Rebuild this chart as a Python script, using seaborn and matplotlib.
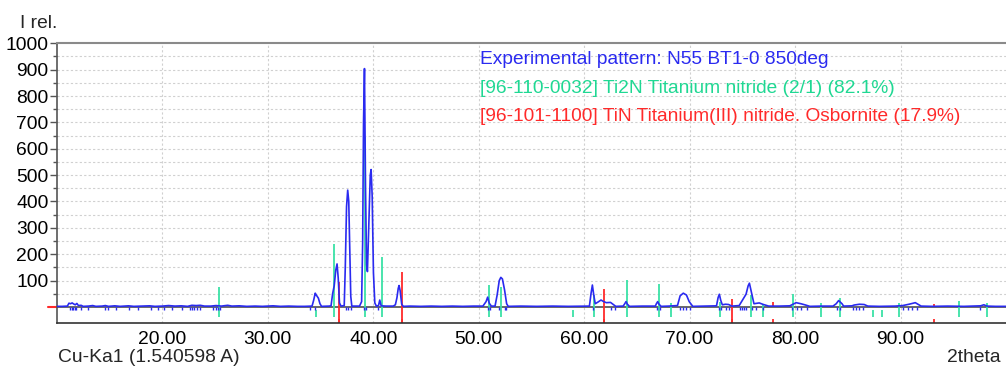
"""
XRD pattern: N55 BT1-0 850deg, phases Ti2N + TiN
"""
import numpy as np
import pandas as pd
import matplotlib
matplotlib.use("Agg")
import matplotlib.pyplot as plt
import seaborn as sns

# ── experimental pattern (2theta, I rel.) ──
exp_2theta = [
    10.0, 10.5, 11.0, 11.15, 11.3, 11.45, 11.6, 11.75, 11.9, 12.05, 12.3, 12.5,
    13.0, 13.4, 13.7, 14.3, 14.6, 14.9, 15.5, 16.0, 16.8, 17.3, 18.0, 18.8, 19.3,
    20.0, 20.6, 21.2, 21.8, 22.4, 22.8, 23.2, 23.6, 24.0, 24.6, 25.1, 25.6, 26.2,
    26.6, 27.3, 28.0, 28.8, 29.5, 30.5, 31.2, 32.0, 32.8, 33.5, 34.2, 34.35, 34.5,
    34.6, 34.8, 34.95, 35.1, 35.8, 36.0, 36.15, 36.3, 36.45, 36.57, 36.68, 36.8,
    36.95, 37.25, 37.35, 37.47, 37.58, 37.68, 37.77, 37.87, 37.97, 38.7, 38.9,
    39.0, 39.08, 39.17, 39.27, 39.37, 39.45, 39.57, 39.72, 39.8, 39.9, 40.02,
    40.15, 40.3, 40.5, 40.62, 40.75, 41.2, 41.9, 42.1, 42.25, 42.37, 42.45, 42.55,
    42.7, 42.85, 43.5, 44.5, 45.5, 46.5, 47.5, 48.5, 49.5, 50.4, 50.7, 50.85,
    51.0, 51.2, 51.55, 51.75, 51.95, 52.1, 52.25, 52.45, 52.65, 52.8, 54.0, 55.5,
    57.0, 58.5, 60.0, 60.5, 60.65, 60.78, 60.9, 61.05, 61.3, 61.6, 61.85, 62.1,
    62.5, 62.8, 63.0, 63.7, 63.85, 63.97, 64.1, 64.3, 65.5, 66.75, 66.85, 66.97,
    67.1, 67.3, 68.0, 68.85, 69.1, 69.4, 69.7, 69.96, 70.3, 71.5, 72.55, 72.7,
    72.82, 72.95, 73.1, 73.4, 73.7, 74.0, 74.7, 75.0, 75.35, 75.55, 75.67, 75.9,
    76.1, 76.6, 77.0, 77.5, 78.5, 79.5, 79.7, 80.1, 80.55, 81.0, 81.4, 82.5,
    83.6, 83.9, 84.13, 84.45, 84.6, 85.4, 85.6, 86.1, 86.55, 86.9, 88.0, 89.5,
    90.2, 90.8, 91.4, 91.95, 93.0, 94.5, 96.0, 97.6, 97.9, 98.2, 99.0, 100.0,
]
exp_int = [
    2, 2, 3, 14, 12, 15, 11, 8, 13, 5, 6, 2,
    3, 5, 2, 3, 5, 2, 4, 2, 4, 2, 3, 4, 2,
    3, 5, 3, 4, 2, 6, 5, 6, 3, 3, 5, 3, 6,
    3, 4, 2, 3, 2, 4, 2, 3, 2, 2, 3, 25, 52,
    45, 33, 12, 2, 3, 4, 50, 80, 140, 163, 110, 15,
    3, 5, 150, 380, 443, 400, 220, 40, 3, 3, 20,
    250, 700, 904, 450, 160, 134, 300, 500, 521, 420, 130,
    15, 3, 5, 26, 4, 3, 3, 8, 35, 70, 81, 62,
    10, 2, 3, 2, 3, 2, 3, 2, 3, 3, 20, 37,
    14, 3, 3, 45, 100, 112, 106, 65, 12, 2, 3, 2,
    3, 2, 3, 3, 50, 83, 48, 12, 18, 26, 20, 16,
    17, 8, 2, 3, 12, 20, 10, 2, 3, 3, 12, 20,
    10, 2, 3, 5, 42, 52, 45, 20, 2, 3, 4, 35,
    48, 25, 8, 10, 9, 3, 5, 25, 48, 80, 90, 48,
    12, 15, 9, 3, 3, 4, 8, 16, 12, 7, 2, 3,
    3, 12, 24, 12, 3, 4, 7, 10, 9, 3, 2, 3,
    5, 10, 16, 3, 2, 3, 2, 4, 8, 3, 2, 2,
]
# peak markers under the experimental pattern
exp_ticks = [
    11.25, 11.4, 11.55, 11.7, 11.85, 12.3, 12.95, 14.55, 14.85, 15.65, 16.85,
    17.65, 18.95, 19.55, 20.2, 20.95, 21.85, 22.65, 22.85, 23.05, 23.25, 23.55,
    24.85, 25.05, 25.25, 25.45, 34.0, 34.45, 37.45, 37.65, 37.85, 39.1, 39.35,
    40.5, 50.9, 51.1, 51.95, 52.45, 52.6, 60.8, 62.55, 62.9, 66.95, 67.15, 69.05,
    69.35, 69.65, 70.0, 72.8, 73.0, 73.45, 73.75, 74.75, 74.95, 75.15, 75.35,
    75.95, 76.3, 76.95, 79.75, 80.15, 80.55, 81.15, 83.95, 84.25, 85.45, 85.75,
    86.05, 86.4, 90.25, 90.7, 91.1, 91.6, 97.55,
]

# ── [96-110-0032] Ti2N (0 = marker only) ──
ti2n_2theta = [25.35, 34.6, 36.25, 39.25, 40.8, 50.95, 52.15, 58.9, 60.9, 64.05,
               67.1, 68.2, 72.85, 75.8, 77.0, 79.8, 82.5, 84.3, 87.35, 88.2,
               89.9, 95.5, 98.2]
ti2n_int = [77, 0, 239, 645, 188, 83, 75, 0, 45, 103,
            88, 15, 20, 45, 10, 50, 15, 33, 0, 0,
            13, 24, 16]

# ── [96-101-1100] TiN ──
tin_2theta = [36.8, 42.75, 61.9, 74.05, 77.95, 93.2]
tin_int = [96, 134, 68, 29, 20, 11]

BLUE = "#2a2af0"
GREEN = "#3ae2a6"
GREEN_TXT = "#1FD893"
RED = "#FF2A2A"
FS = 13.9

sns.set_theme(style="white")
plt.rcParams["font.family"] = ["Liberation Sans", "DejaVu Sans"]

fig = plt.figure(figsize=(10.06, 3.67), dpi=100)
ax = fig.add_axes([0.0565, 0.1207, 0.9435, 0.7613])

# grid
for v in range(20, 100, 10):
    ax.axvline(v, color="#d0d0d0", lw=0.8, ls=(0, (2, 2)), zorder=0)
for h in range(50, 1000, 50):
    ax.axhline(h, color="#d0d0d0", lw=0.8, ls=(0, (2, 2)), zorder=0)

ax.axhline(0, color="#404040", lw=1.1, zorder=1)

# phase sticks
t_int = np.array(ti2n_int, dtype=float)
ax.vlines(ti2n_2theta, -40, np.where(t_int > 0, t_int, -12), color=GREEN, lw=1.3, zorder=2)
r_int = np.array(tin_int, dtype=float)
ax.vlines(tin_2theta, np.where(r_int >= 25, -60, 0), r_int, color=RED, lw=1.3, zorder=2)
ax.vlines(tin_2theta, -45, -60, color=RED, lw=1.3, zorder=2)

# experimental pattern
exp = pd.DataFrame({"two_theta": exp_2theta, "I": exp_int})
sns.lineplot(data=exp, x="two_theta", y="I", color=BLUE, lw=1.2, ax=ax,
             sort=False, estimator=None, zorder=3)
ax.vlines(exp_ticks, 0, -12, color=BLUE, lw=1.0, zorder=3)

# red zero marker left of the axis
ax.plot([-0.009, 0], [0, 0], color=RED, lw=1.5,
        transform=ax.get_yaxis_transform(), clip_on=False)

ax.set_xlim(10, 100)
ax.set_ylim(-60, 1000)
ax.set_xticks(range(20, 100, 10))
ax.set_xticklabels([f"{v:.2f}" for v in range(20, 100, 10)])
ax.set_yticks(range(100, 1001, 100))
ax.set_yticks(range(50, 1000, 100), minor=True)
ax.tick_params(axis="y", which="major", left=True, length=5, width=1, color="#555555",
               pad=1, labelsize=FS, labelcolor="black")
ax.tick_params(axis="y", which="minor", left=True, length=3, width=1, color="#555555")
ax.tick_params(axis="x", length=0, pad=6, labelsize=FS, labelcolor="black")
ax.set_xlabel("")
ax.set_ylabel("")

ax.spines["right"].set_visible(False)
ax.spines["top"].set_color("#8a8a8a")
ax.spines["top"].set_linewidth(1.5)
ax.spines["left"].set_color("#555555")
ax.spines["left"].set_linewidth(1.2)
ax.spines["bottom"].set_color("#333333")
ax.spines["bottom"].set_linewidth(1.2)

H = 367.0
W = 1006.0
fig.text(20.5 / W, 1 - 28 / H, "I rel.", fontsize=FS, va="baseline")
fig.text(58 / W, 1 - 362 / H, "Cu-Ka1 (1.540598 A)", fontsize=FS, va="baseline")
fig.text(1001 / W, 1 - 362 / H, "2theta", fontsize=FS, va="baseline", ha="right")

labels = [
    ("Experimental pattern: N55 BT1-0 850deg", BLUE),
    ("[96-110-0032] Ti2N Titanium nitride (2/1) (82.1%)", GREEN_TXT),
    ("[96-101-1100] TiN Titanium(III) nitride. Osbornite (17.9%)", RED),
]
for i, (txt, col) in enumerate(labels):
    fig.text(479.5 / W, 1 - (64.5 + 28.2 * i) / H, txt, color=col,
             fontsize=13.8, va="baseline")

fig.savefig("out.png", dpi=100)
